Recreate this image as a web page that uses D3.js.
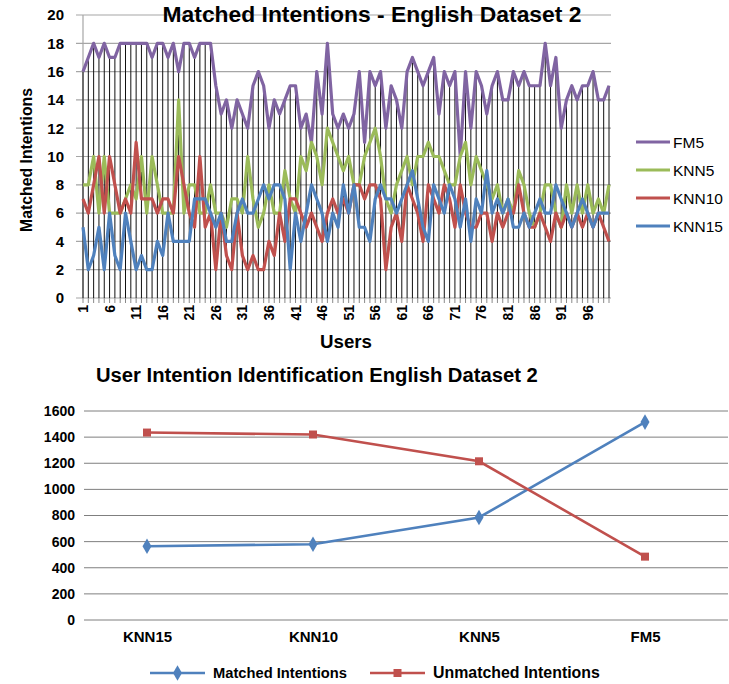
<!DOCTYPE html>
<html><head><meta charset="utf-8">
<script src="https://cdn.jsdelivr.net/npm/d3@7/dist/d3.min.js"></script>
<style>
body{margin:0;background:#fff}
svg{display:block}
text{font-family:"Liberation Sans",Arial,sans-serif;fill:#000}
</style>
</head><body>
<svg id="c" width="729" height="684"></svg>
<script>
// ---------- DATA: top chart ----------
const users = d3.range(1, 101);
const userTickLabels = [1, 6, 11, 16, 21, 26, 31, 36, 41, 46, 51, 56, 61, 66, 71, 76, 81, 86, 91, 96];
const yTicksTop = [0, 2, 4, 6, 8, 10, 12, 14, 16, 18, 20];
const seriesNames = ["FM5", "KNN5", "KNN10", "KNN15"];
const fm5 = [16,17,18,17,18,17,17,18,18,18, 18,18,18,17,18,18,17,18,16,18,
             18,17,18,18,18,15,13,14,12,14, 13,12,15,16,15,12,14,13,14,15,
             15,12,13,11,16,13,18,13,12,13, 12,13,16,11,16,15,16,12,15,14,
             12,16,17,16,15,16,17,13,16,15, 16,10,16,12,16,15,13,15,16,14,
             14,16,15,16,15,15,15,18,15,17, 12,14,15,14,15,15,16,14,14,15];
const knn5 = [8,8,10,6,10,6,6,6,7,8, 7,10,6,10,8,6,6,6,14,6,
              8,8,6,6,8,6,6,5,7,7, 6,10,7,5,6,8,6,6,9,7,
              6,10,9,11,10,8,12,11,10,9, 10,8,8,10,11,12,10,7,6,8,
              9,10,8,10,10,11,10,10,9,8, 8,10,11,8,10,9,8,7,8,6,
              7,6,9,8,6,5,6,8,8,6, 5,8,6,8,6,8,6,7,6,8];
const knn10 = [7,6,8,10,6,10,8,6,7,6, 11,7,7,7,6,7,7,6,10,8,
               6,5,10,5,6,2,6,3,2,6, 3,2,3,2,2,4,3,6,4,7,
               7,6,5,6,5,4,6,7,6,7, 6,8,8,7,8,8,7,2,5,6,
               4,8,7,6,4,8,7,6,8,7, 5,8,6,5,5,6,6,4,6,5,
               6,6,8,6,5,5,6,5,4,6, 5,6,5,6,5,6,5,6,5,4];
const knn15 = [5,2,3,5,2,6,3,2,6,4, 2,3,2,2,4,3,6,4,4,4,
               4,7,7,7,6,5,6,4,4,6, 7,6,6,7,8,7,8,8,7,2,
               6,4,6,8,7,6,4,6,5,8, 6,8,5,5,4,7,8,7,7,6,
               7,8,9,7,5,4,8,7,6,8, 7,5,7,4,7,6,9,6,7,6,
               7,5,5,6,5,6,7,6,6,8, 7,6,5,6,7,6,5,6,6,6];
const seriesColors = ["#8064A2", "#9BBB59", "#C0504D", "#4F81BD"];

// ---------- DATA: bottom chart ----------
const methods = ["KNN15", "KNN10", "KNN5", "FM5"];
const matched = [565, 580, 785, 1515];
const unmatched = [1435, 1420, 1215, 485];
const yTicksBottom = [0, 200, 400, 600, 800, 1000, 1200, 1400, 1600];

// ---------- helpers ----------
const svg = d3.select("#c");
function fit(sel, w) {
  const l = sel.node().getComputedTextLength();
  const fs = parseFloat(sel.attr("font-size"));
  sel.attr("font-size", (fs * w / l).toFixed(2));
  return sel;
}

// ================= TOP CHART =================
const gTop = svg.append("g");
const x1 = d3.scalePoint().domain(users).range([83, 609]);
const y1 = d3.scaleLinear().domain([0, 20]).range([298, 15]);
const allSeries = [fm5, knn5, knn10, knn15];

gTop.selectAll("line.grid").data(yTicksTop).join("line")
  .attr("x1", 76).attr("x2", 611)
  .attr("y1", d => y1(d)).attr("y2", d => y1(d))
  .attr("stroke", "#A6A6A6").attr("stroke-width", 1.2);

gTop.selectAll("line.xt").data(users).join("line")
  .attr("x1", d => x1(d)).attr("x2", d => x1(d))
  .attr("y1", y1(0)).attr("y2", y1(0) + 5)
  .attr("stroke", "#8a8a8a").attr("stroke-width", 1);

gTop.append("line").attr("x1", 83).attr("x2", 83).attr("y1", y1(20)).attr("y2", y1(0) + 1)
  .attr("stroke", "#A6A6A6").attr("stroke-width", 1.2);

gTop.selectAll("line.drop").data(users).join("line")
  .attr("x1", d => x1(d)).attr("x2", d => x1(d))
  .attr("y1", y1(0))
  .attr("y2", (d, i) => y1(Math.max(fm5[i], knn5[i], knn10[i], knn15[i])))
  .attr("stroke", "#111").attr("stroke-width", 1);

const line1 = d3.line().x((d, i) => x1(users[i])).y(d => y1(d));
allSeries.forEach((s, k) => {
  gTop.append("path").datum(s).attr("d", line1)
    .attr("fill", "none").attr("stroke", seriesColors[k])
    .attr("stroke-width", 3.2).attr("stroke-linejoin", "round");
});

const yAx1 = d3.axisLeft(y1).tickValues(yTicksTop).tickSize(0).tickPadding(0);
const yg1 = gTop.append("g").attr("transform", "translate(64,0)").call(yAx1);
yg1.select(".domain").remove();
yg1.selectAll("text").attr("font-size", 15).attr("font-weight", "bold")
  .attr("font-family", '"Liberation Sans",Arial,sans-serif').attr("fill", "#000");

gTop.selectAll("text.xl").data(userTickLabels).join("text")
  .attr("transform", d => `translate(${x1(d) + 5},305) rotate(-90)`)
  .attr("text-anchor", "end").attr("font-size", 14).attr("font-weight", "bold")
  .text(d => d);

fit(gTop.append("text").attr("x", 372).attr("y", 22).attr("text-anchor", "middle")
  .attr("font-size", 18).attr("font-weight", "bold")
  .text("Matched Intentions - English Dataset 2"), 419);
fit(gTop.append("text").attr("transform", "translate(32,160) rotate(-90)")
  .attr("text-anchor", "middle").attr("font-size", 16).attr("font-weight", "bold")
  .text("Matched Intentions"), 144);
fit(gTop.append("text").attr("x", 346).attr("y", 348).attr("text-anchor", "middle")
  .attr("font-size", 17).attr("font-weight", "bold").text("Users"), 52);

const lg1 = gTop.selectAll("g.lg").data(seriesNames).join("g")
  .attr("transform", (d, i) => `translate(636,${142 + i * 28})`);
lg1.append("line").attr("x1", 0).attr("x2", 34).attr("y1", 0).attr("y2", 0)
  .attr("stroke", (d, i) => seriesColors[i]).attr("stroke-width", 3.2);
lg1.append("text").attr("x", 37).attr("y", 5.5).attr("font-size", 15.5).text(d => d);

// ================= BOTTOM CHART =================
const gBot = svg.append("g");
const x2 = d3.scalePoint().domain(methods).range([147, 645]);
const y2 = d3.scaleLinear().domain([0, 1600]).range([620, 411]);

gBot.selectAll("line.grid").data(yTicksBottom).join("line")
  .attr("x1", 84).attr("x2", 728)
  .attr("y1", d => y2(d)).attr("y2", d => y2(d))
  .attr("stroke", "#7f7f7f").attr("stroke-width", 1);

const yAx2 = d3.axisLeft(y2).tickValues(yTicksBottom).tickFormat(d3.format("d")).tickSize(0).tickPadding(0);
const yg2 = gBot.append("g").attr("transform", "translate(75,0)").call(yAx2);
yg2.select(".domain").remove();
yg2.selectAll("text").attr("font-size", 14).attr("font-weight", "bold")
  .attr("font-family", '"Liberation Sans",Arial,sans-serif').attr("fill", "#000");

const xAx2 = d3.axisBottom(x2).tickSize(0).tickPadding(0);
const xg2 = gBot.append("g").attr("transform", "translate(0,631)").call(xAx2);
xg2.select(".domain").remove();
xg2.selectAll("text").attr("font-size", 15).attr("font-weight", "bold")
  .attr("font-family", '"Liberation Sans",Arial,sans-serif').attr("fill", "#000");

const line2 = d3.line().x((d, i) => x2(methods[i])).y(d => y2(d));
const botSeries = [
  {name: "Matched Intentions", vals: matched, color: "#4F81BD", sym: d3.symbolDiamond, size: 70},
  {name: "Unmatched Intentions", vals: unmatched, color: "#C0504D", sym: d3.symbolSquare, size: 64}
];
botSeries.forEach(s => {
  gBot.append("path").datum(s.vals).attr("d", line2).attr("fill", "none")
    .attr("stroke", s.color).attr("stroke-width", 2.6);
  gBot.selectAll(null).data(s.vals).join("path")
    .attr("transform", (d, i) => `translate(${x2(methods[i])},${y2(d)})`)
    .attr("d", d3.symbol(s.sym, s.size)).attr("fill", s.color);
});

fit(gBot.append("text").attr("x", 96).attr("y", 382).attr("font-size", 15).attr("font-weight", "bold")
  .text("User Intention Identification English Dataset 2"), 442);

const lgPos = [150, 370];
const lgW = [134, 167];
botSeries.forEach((s, i) => {
  const g = gBot.append("g").attr("transform", `translate(${lgPos[i]},673)`);
  g.append("line").attr("x1", 0).attr("x2", 55).attr("stroke", s.color).attr("stroke-width", 2.6);
  g.append("path").attr("transform", "translate(27.5,0)").attr("d", d3.symbol(s.sym, s.size)).attr("fill", s.color);
  fit(g.append("text").attr("x", 63).attr("y", 5).attr("font-size", 14).attr("font-weight", "bold").text(s.name), lgW[i]);
});
</script>
</body></html>
